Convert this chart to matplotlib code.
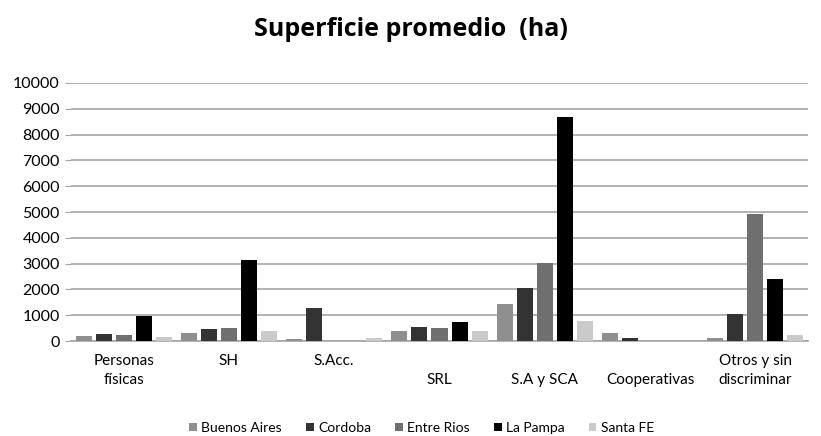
import numpy as np
import matplotlib
matplotlib.use("Agg")
import matplotlib.pyplot as plt

# categorias y valores (ha)
categorias = ["Personas\nfísicas", "SH", "S.Acc.", "\nSRL", "\nS.A y SCA", "\nCooperativas", "Otros y sin\ndiscriminar"]
provincias = ["Buenos Aires", "Cordoba", "Entre Rios", "La Pampa", "Santa FE"]
colores = ["#8f8f8f", "#333333", "#6f6f6f", "#000000", "#cacaca"]

buenos_aires = [195, 310, 90, 400, 1430, 310, 120]
cordoba = [280, 465, 1290, 545, 2035, 130, 1050]
entre_rios = [240, 505, 0, 495, 3035, 0, 4915]
la_pampa = [980, 3150, 0, 725, 8690, 0, 2400]
santa_fe = [170, 390, 120, 390, 790, 0, 235]

series = [buenos_aires, cordoba, entre_rios, la_pampa, santa_fe]

plt.rcParams['font.family'] = ['Lato', 'DejaVu Sans']

fig = plt.figure(figsize=(8.21, 4.36), dpi=100)
ax = fig.add_axes([71 / 821, (436 - 341) / 436, (808 - 71) / 821, (341 - 83) / 436])

x = np.arange(len(categorias))
paso = 0.19
ancho = 0.152
for i, (nombre, valores) in enumerate(zip(provincias, series)):
    ax.bar(x + (i - 2) * paso, valores, width=ancho, color=colores[i], label=nombre, zorder=3)

ax.set_xlim(-0.5, len(categorias) - 0.5)
ax.set_ylim(0, 10000)
ax.set_yticks(range(0, 10001, 1000))
ax.yaxis.grid(True, color="#a6a6a6", linewidth=1.2, zorder=0)
ax.set_xticks(x)
ax.set_xticklabels(categorias, fontsize=11, linespacing=1.5)
ax.tick_params(axis='x', length=0, pad=9)
ax.tick_params(axis='y', length=4, color="#a6a6a6", labelsize=11.5, pad=4)
for lado in ["top", "right", "left"]:
    ax.spines[lado].set_visible(False)
ax.spines["bottom"].set_color("#a6a6a6")
ax.spines["bottom"].set_linewidth(1.2)

fig.text(0.5, 1 - 36 / 436, "Superficie promedio  (ha)", ha="center", va="baseline",
         fontsize=18, fontweight="bold", family=["Open Sans", "DejaVu Sans"])

fig.legend(loc="center", bbox_to_anchor=(0.5 + 11 / 821, 1 - 428 / 436), ncol=5, frameon=False,
           fontsize=10, handlelength=0.55, handleheight=0.55, handletextpad=0.3,
           columnspacing=1.75)

fig.savefig("out.png", dpi=100)
